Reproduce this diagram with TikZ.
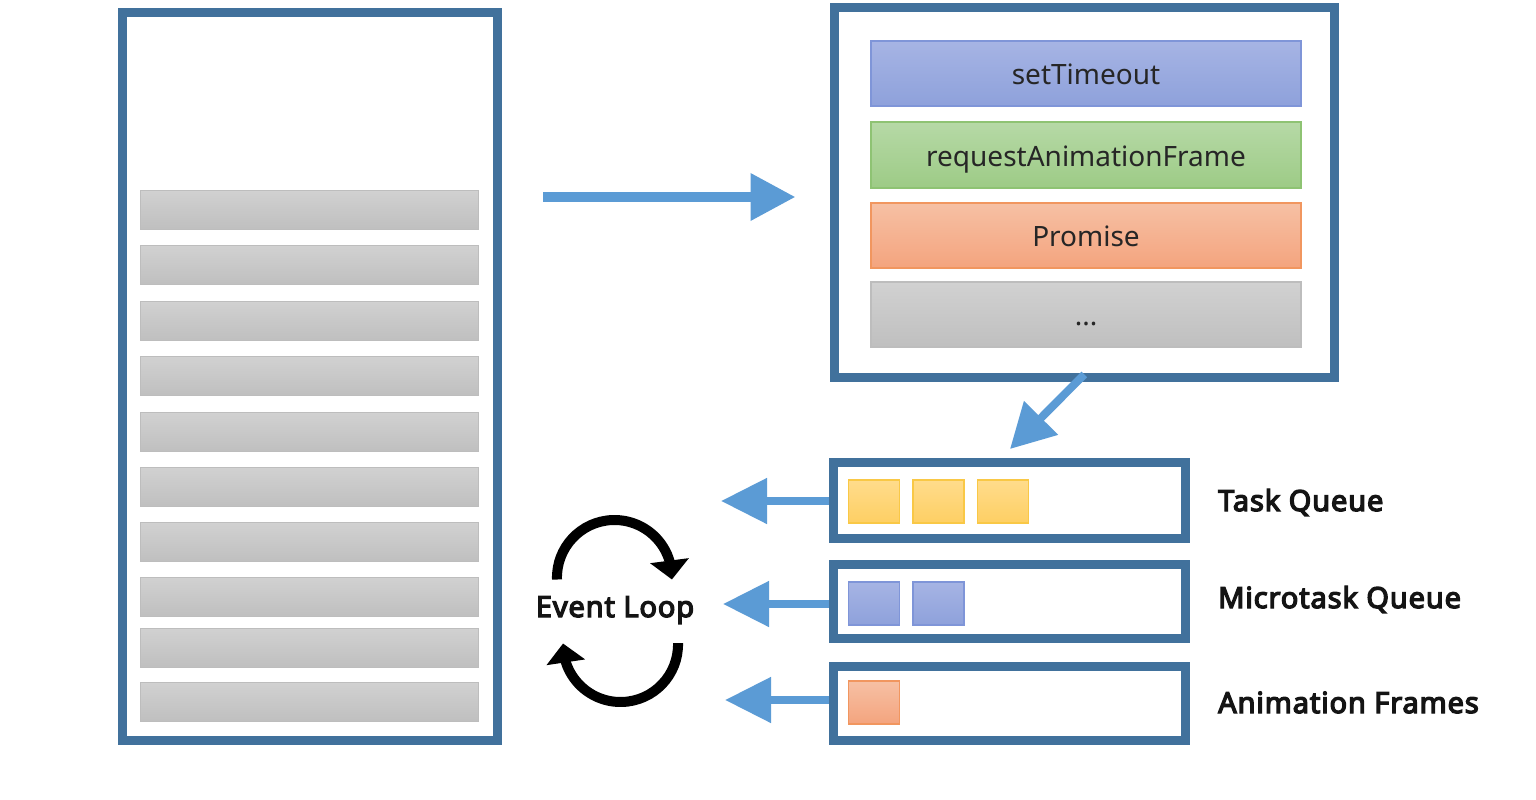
\documentclass[tikz,border=0pt]{standalone}
\usepackage{fontspec}
\setmainfont{Noto Sans}
\newfontfamily\lblfont{Noto Sans}[FakeBold=4.5,LetterSpace=3]
\usetikzlibrary{arrows.meta,bending}

\definecolor{framec}{HTML}{41719C}
\definecolor{arrowc}{HTML}{5B9BD5}
\definecolor{txt}{HTML}{262626}

\tikzset{
  framebox/.style={draw=framec, line width=9pt, fill=white, inner sep=0pt},
  graybar/.style={draw=black!26, line width=0.8pt, top color=black!18, bottom color=black!25,
    minimum width=338pt, minimum height=39pt, inner sep=0pt},
  apibar/.style={line width=1.2pt, minimum width=430pt, minimum height=65pt, inner sep=0pt,
    text height=23pt, text depth=1pt, font=\fontsize{28}{30}\selectfont, text=txt},
  timeoutc/.style={draw={rgb,255:red,127;green,149;blue,216}, top color={rgb,255:red,166;green,180;blue,228}, bottom color={rgb,255:red,142;green,161;blue,219}},
  rafc/.style={draw={rgb,255:red,142;green,195;blue,115}, top color={rgb,255:red,182;green,217;blue,166}, bottom color={rgb,255:red,157;green,203;blue,134}},
  promc/.style={draw={rgb,255:red,241;green,150;blue,95}, top color={rgb,255:red,246;green,192;blue,164}, bottom color={rgb,255:red,244;green,164;blue,126}},
  grayc/.style={draw=black!26, top color=black!18, bottom color=black!25},
  sq/.style={line width=1.2pt, minimum width=51pt, minimum height=43pt, inner sep=0pt},
  yellowc/.style={draw={rgb,255:red,249;green,200;blue,70}, top color={rgb,255:red,255;green,220;blue,140}, bottom color={rgb,255:red,254;green,207;blue,99}},
  bigarrow/.style={draw=arrowc, line width=10pt, -{Triangle[length=45pt,width=45pt]}},
  qarrow/.style={draw=arrowc, line width=8pt, -{Triangle[length=46pt,width=44pt]}},
  looparrow/.style={draw=black, line width=10pt, -{Triangle[length=19pt,width=38pt,flex]}},
  qlabel/.style={anchor=base west, font=\lblfont\fontsize{29}{31}\selectfont, text=black!92, inner sep=0pt},
}

\begin{document}
\begin{tikzpicture}[x=1pt,y=-1pt]
\useasboundingbox[fill=white] (0,0) rectangle (1536,800);

% call stack
\node[framebox, minimum width=375pt, minimum height=728pt] (stack) at (310,376.5) {};
\foreach \i/\a/\b in {1/190/229,2/245/285,3/301/340,4/356/396,5/412/452,6/467/507,7/522/562,8/577/616,9/628/667,10/682/721}{
  \node[graybar] (bar\i) at (309,{(\a+\b)/2}) {};
}

% web apis
\node[framebox, minimum width=500.5pt, minimum height=369pt] (apis) at (1084.25,192.5) {};
\node[apibar, timeoutc] (settimeout) at (1086,73.5) {setTimeout};
\node[apibar, rafc, minimum height=66pt] (raf) at (1086,155) {requestAnimationFrame};
\node[apibar, promc] (promise) at (1086,235.5) {Promise};
\node[apibar, grayc] (more) at (1086,314.5) {...};

% queues
\node[framebox, minimum width=352pt, minimum height=75.5pt] (taskq) at (1009.5,500.25) {};
\node[framebox, minimum width=352pt, minimum height=74pt] (microq) at (1009.5,601.5) {};
\node[framebox, minimum width=352pt, minimum height=74pt] (animq) at (1009.5,703.5) {};

\node[sq, yellowc] (t1) at (874,501.5) {};
\node[sq, yellowc] (t2) at (938.5,501.5) {};
\node[sq, yellowc] (t3) at (1003,501.5) {};
\node[sq, timeoutc] (m1) at (874,603.5) {};
\node[sq, timeoutc] (m2) at (938.5,603.5) {};
\node[sq, promc] (f1) at (874,702.5) {};

\node[qlabel] (tasklabel) at (1218,511) {Task Queue};
\node[qlabel] (microlabel) at (1218,608) {Microtask Queue};
\node[qlabel] (animlabel) at (1218,713) {Animation Frames};

% arrows
\draw[bigarrow] ([xshift=41pt,yshift=-4.5pt]stack.east |- apis.west) -- ([xshift=-34pt,yshift=-4.5pt]apis.west);
\coordinate (diagtip) at (1010,449);
\draw[qarrow, -{Triangle[length=44pt,width=46pt]}] ([yshift=7pt]apis.south) -- (diagtip);

\coordinate (taskout) at (721,501);
\coordinate (microout) at (723,604);
\coordinate (animout) at (725,700);
\draw[qarrow] (taskq.west |- taskout) -- (taskout);
\draw[qarrow] (microq.west |- microout) -- (microout);
\draw[qarrow] (animq.west |- animout) -- (animout);

% event loop
\node[font=\lblfont\fontsize{29}{31}\selectfont, text=black!92, anchor=base, inner sep=0pt] (eventloop) at (615,617) {Event Loop};
\draw[looparrow] (557,579.5) arc[start angle=182, end angle=-2, radius=57.5pt];
\draw[looparrow] (678,643) arc[start angle=1.5, end angle=-181, radius=57.5pt];
\end{tikzpicture}
\end{document}
